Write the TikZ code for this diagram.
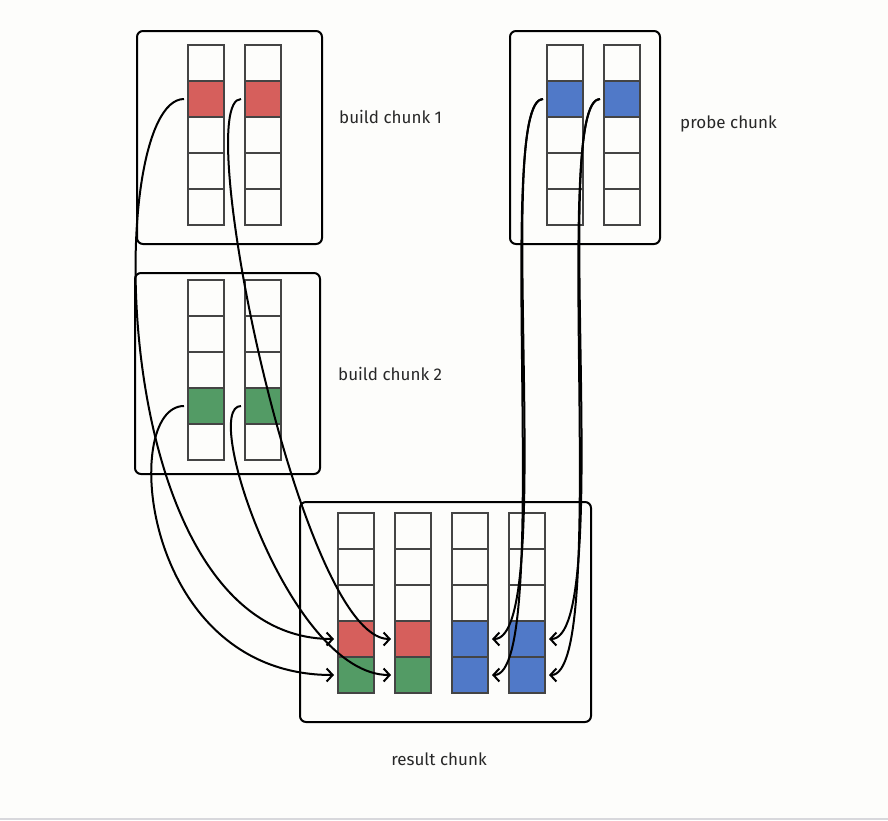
\documentclass[tikz,border=0pt]{standalone}
\usepackage{fontspec}
\setmainfont{Fira Sans}
\usetikzlibrary{arrows.meta}
\definecolor{bg}{RGB}{253,253,251}
\definecolor{cred}{RGB}{214,95,92}
\definecolor{cgreen}{RGB}{83,155,101}
\definecolor{cblue}{RGB}{80,121,200}
\definecolor{cellline}{RGB}{68,68,68}
\definecolor{txt}{RGB}{40,40,40}
\definecolor{footline}{RGB}{216,216,220}
\tikzset{
  chunkbox/.style={draw=black, line width=2pt, rounded corners=6pt},
  cell/.style={draw=cellline, line width=1.2pt, minimum width=36pt, minimum height=36pt, inner sep=0pt, outer sep=0pt},
  lbl/.style={font=\fontsize{17pt}{20pt}\selectfont, text=txt, inner sep=0pt},
  conn/.style={line width=2pt, -{Straight Barb[length=6pt,width=13pt,line width=2pt]}},
}
\begin{document}
\begin{tikzpicture}[x=1pt,y=-1pt]
\fill[bg] (0,0) rectangle (888,820);
\fill[footline] (0,818) rectangle (888,820);
\useasboundingbox (0,0) rectangle (888,820);

% chunk boxes
\draw[chunkbox] (137,31) rectangle (322,244);
\draw[chunkbox] (135,273) rectangle (320,474);
\draw[chunkbox] (510,31) rectangle (660,244);
\draw[chunkbox] (300,502) rectangle (591,722);

% build chunk 1
\foreach \c/\x in {1/206,2/263}{
  \foreach \r/\y in {1/63,2/99,3/135,4/171,5/207}{
    \node[cell] (ba\c\r) at (\x,\y) {};
  }
}
\node[cell, fill=cred] at (ba12) {};
\node[cell, fill=cred] at (ba22) {};

% build chunk 2
\foreach \c/\x in {1/206,2/263}{
  \foreach \r/\y in {1/298,2/334,3/370,4/406,5/442}{
    \node[cell] (bb\c\r) at (\x,\y) {};
  }
}
\node[cell, fill=cgreen] at (bb14) {};
\node[cell, fill=cgreen] at (bb24) {};

% probe chunk
\foreach \c/\x in {1/565,2/622}{
  \foreach \r/\y in {1/63,2/99,3/135,4/171,5/207}{
    \node[cell] (pc\c\r) at (\x,\y) {};
  }
}
\node[cell, fill=cblue] at (pc12) {};
\node[cell, fill=cblue] at (pc22) {};

% result chunk
\foreach \c/\x in {1/356,2/413,3/470,4/527}{
  \foreach \r/\y in {1/531,2/567,3/603,4/639,5/675}{
    \node[cell] (rc\c\r) at (\x,\y) {};
  }
}
\node[cell, fill=cred] at (rc14) {};
\node[cell, fill=cred] at (rc24) {};
\node[cell, fill=cgreen] at (rc15) {};
\node[cell, fill=cgreen] at (rc25) {};
\node[cell, fill=cblue] at (rc34) {};
\node[cell, fill=cblue] at (rc35) {};
\node[cell, fill=cblue] at (rc44) {};
\node[cell, fill=cblue] at (rc45) {};

% labels
\node[lbl, anchor=west] (l1) at (339,117) {build chunk 1};
\node[lbl, anchor=west] (l2) at (338,374) {build chunk 2};
\node[lbl, anchor=west] (l3) at (680,124) {probe chunk};
\node[lbl] (l4) at (439,759) {result chunk};

% connectors from build chunks
\draw[conn] ([xshift=-4pt]ba12.west) .. controls +(-80,0) and +(-230,0) .. ([xshift=-4pt]rc14.west);
\draw[conn] ([xshift=-4pt]ba22.west) .. controls +(-51,0) and +(-91,0) .. ([xshift=-4pt]rc24.west);
\draw[conn] ([xshift=-4pt]bb14.west) .. controls +(-64,0) and +(-194,0) .. ([xshift=-4pt]rc15.west);
\draw[conn] ([xshift=-4pt]bb24.west) .. controls +(-41,0) and +(-101,0) .. ([xshift=-4pt]rc25.west);

% connectors from probe chunk
\draw[conn] ([xshift=-4pt]pc12.west) .. controls +(-50,0) and +(66,0) .. ([xshift=4pt]rc34.east);
\draw[conn] ([xshift=-4pt]pc12.west) .. controls +(-50,0) and +(62,0) .. ([xshift=4pt]rc35.east);
\draw[conn] ([xshift=-4pt]pc22.west) .. controls +(-50,0) and +(66,0) .. ([xshift=4pt]rc44.east);
\draw[conn] ([xshift=-4pt]pc22.west) .. controls +(-50,0) and +(62,0) .. ([xshift=4pt]rc45.east);
\end{tikzpicture}
\end{document}
